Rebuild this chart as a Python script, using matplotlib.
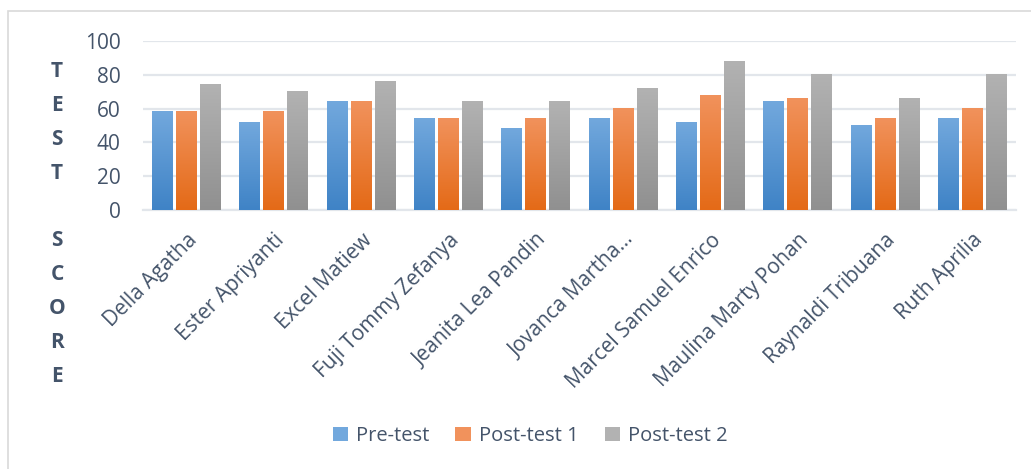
import numpy as np
import matplotlib.pyplot as plt
from matplotlib.colors import LinearSegmentedColormap
from matplotlib.patches import Rectangle, Patch

students = ['Della Agatha', 'Ester Apriyanti', 'Excel Matiew', 'Fuji Tommy Zefanya',
            'Jeanita Lea Pandin', 'Jovanca Martha...', 'Marcel Samuel Enrico',
            'Maulina Marty Pohan', 'Raynaldi Tribuana', 'Ruth Aprilia']
pre_test = [58, 52, 64, 54, 48, 54, 52, 64, 50, 54]
post_test_1 = [58, 58, 64, 54, 54, 60, 68, 66, 54, 60]
post_test_2 = [74, 70, 76, 64, 64, 72, 88, 80, 66, 80]
series_names = ['Pre-test', 'Post-test 1', 'Post-test 2']

# (top colour, bottom colour) of each gradient fill
gradients = [('#72A8DD', '#3F83C6'), ('#F1925C', '#E46A17'), ('#B2B2B2', '#909090')]
text_color = '#44546A'

plt.rcParams['font.family'] = ['Open Sans', 'DejaVu Sans']

fig = plt.figure(figsize=(10.31, 4.69), dpi=100)
ax = fig.add_axes([143 / 1031, 1 - 210 / 469, 873 / 1031, 169 / 469])

# light outer frame of the chart area
fig.patches.append(Rectangle((8 / 1031, -0.1), 1.2, 1 - 11 / 469 + 0.1,
                             transform=fig.transFigure, fill=False,
                             edgecolor='#D9D9D9', linewidth=1.2))

x = np.arange(len(students))
width = 0.24
offsets = [-0.275, 0, 0.275]
grad = np.linspace(1, 0, 256).reshape(-1, 1)

for values, off, (top, bottom), name in zip([pre_test, post_test_1, post_test_2],
                                            offsets, gradients, series_names):
    bars = ax.bar(x + off, values, width, color=top, label=name, zorder=2)
    cmap = LinearSegmentedColormap.from_list(name, [bottom, top])
    for b in bars:
        x0, y0 = b.get_x(), b.get_y()
        ax.imshow(grad, cmap=cmap, aspect='auto', zorder=3,
                  extent=[x0, x0 + b.get_width(), y0, y0 + b.get_height()],
                  vmin=0, vmax=1)

ax.set_xlim(-0.5, len(students) - 0.5)
ax.set_ylim(0, 100)
ax.set_yticks(range(0, 101, 20))
ax.yaxis.grid(True, color='#E2E6EB', linewidth=1.6, zorder=0)
ax.set_axisbelow(True)
for s in ['top', 'right', 'left']:
    ax.spines[s].set_visible(False)
ax.spines['bottom'].set_color('#E2E6EB')
ax.spines['bottom'].set_linewidth(1.6)

ax.tick_params(axis='y', length=0, pad=16, labelsize=15, labelcolor=text_color)
ax.tick_params(axis='x', length=0, pad=14)
ax.set_xticks(x)
ax.set_xticklabels(students, rotation=45, ha='right', rotation_mode='anchor',
                   fontsize=15, color=text_color)

fig.text(57 / 1031, 1 - 224 / 469, 'T\nE\nS\nT\n\nS\nC\nO\nR\nE',
         ha='center', va='center', fontsize=15, fontweight='bold',
         color=text_color, linespacing=1.8)

handles = [Patch(facecolor=g[0], label=n) for g, n in zip(gradients, series_names)]
fig.legend(handles=handles, loc='center', bbox_to_anchor=(530 / 1031, 1 - 436 / 469),
           ncol=3, frameon=False, fontsize=14.5, handlelength=0.75, handleheight=0.75,
           handletextpad=0.4, columnspacing=1.3, labelcolor=text_color)

fig.savefig('out.png', dpi=100)
